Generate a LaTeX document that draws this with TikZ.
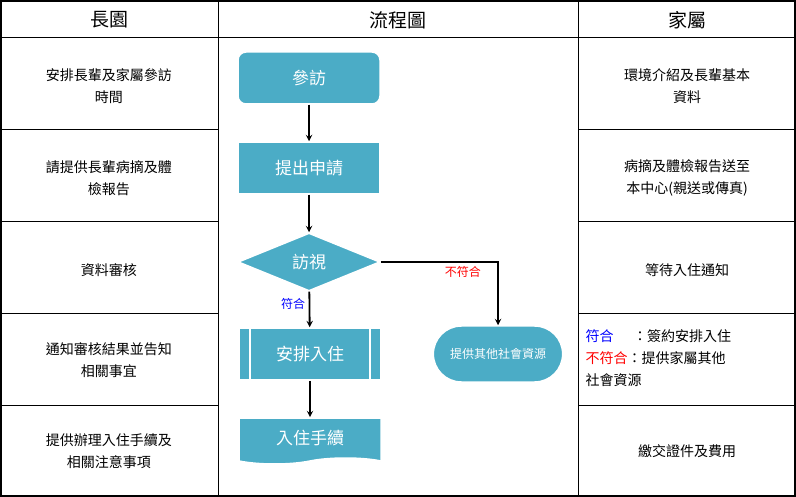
\documentclass[tikz,border=0pt]{standalone}
\usepackage{fontspec}
\setmainfont{Noto Sans CJK TC}
\usetikzlibrary{shapes.geometric,shapes.symbols,shapes.misc,positioning}
\definecolor{flowfill}{HTML}{4BACC6}
\tikzset{>=stealth,
  box/.style={fill=flowfill,draw=white,line width=1.5pt,text=white,font=\fontsize{17}{20}\selectfont,minimum width=142pt,minimum height=52pt},
  cell/.style={text width=200pt,align=center,font=\fontsize{14}{22}\selectfont},
  flow/.style={->,line width=1.8pt}}
\begin{document}
\begin{tikzpicture}[x=1pt,y=-1pt]
          \useasboundingbox (0,0) rectangle (796,497);
          \fill[white] (0,0) rectangle (796,497);
          % table
          \draw[line width=1.5pt] (1,1) rectangle (795,496);
          \draw[line width=1pt] (218,1) -- (218,496) (578,1) -- (578,496) (1,38) -- (795,38);
          \foreach \y in {130,222,314,405}{
            \draw[line width=1pt] (1,\y) -- (218,\y) (578,\y) -- (795,\y);
          }
          \node[font=\fontsize{19}{22}\selectfont] (hl) at (109,20) {長園};
          \node[font=\fontsize{19}{22}\selectfont] (hm) at (398,20) {流程圖};
          \node[font=\fontsize{19}{22}\selectfont] (hr) at (687,20) {家屬};
          % left column
          \node[cell] (l1) at (109,86) {安排長輩及家屬參訪\\時間};
          \node[cell] (l2) at (109,178) {請提供長輩病摘及體\\檢報告};
          \node[cell] (l3) at (109,270) {資料審核};
          \node[cell] (l4) at (109,360) {通知審核結果並告知\\相關事宜};
          \node[cell] (l5) at (109,451) {提供辦理入住手續及\\相關注意事項};
          % right column
          \node[cell] (r1) at (687,86) {環境介紹及長輩基本\\資料};
          \node[cell] (r2) at (687,178) {病摘及體檢報告送至\\本中心(親送或傳真)};
          \node[cell] (r3) at (687,270) {等待入住通知};
          \node[cell,align=left,text width=205pt] (r4) at (688,358) {\textcolor{blue}{符合\hspace{1.4em}}：簽約安排入住\\\textcolor{red}{不符合}：提供家屬其他\\社會資源};
          \node[cell] (r5) at (687,451) {繳交證件及費用};
          % flow
          \node[box,rounded corners=8pt] (visit) at (309,78) {參訪};
          \node[box] (apply) at (309,168) {提出申請};
          \node[box,diamond,aspect=2.6,minimum width=142pt,minimum height=58pt,inner sep=0pt] (check) at (309,262) {訪視};
          \node[box] (admit) at (310,354) {安排入住};
          \draw[white,line width=1.5pt] (250,328) -- (250,380) (370,328) -- (370,380);
          \node[box,tape,tape bend top=none,tape bend height=6pt,minimum height=46pt] (proc) at (310,438) {入住手續};
          \node[box,rounded rectangle,minimum width=136pt,minimum height=56pt,font=\fontsize{12}{14}\selectfont] (other) at (498,354) {提供其他社會資源};
          \draw[flow] (visit) -- (apply);
          \draw[flow] (apply) -- (check);
          \draw[flow] (check) -- node[left,pos=0.35,text=blue,font=\fontsize{12}{14}\selectfont]{符合} (admit);
          \draw[flow] (check.east) -| node[pos=0.35,below,text=red,font=\fontsize{12}{14}\selectfont]{不符合} (other.north);
          \draw[flow] (admit) -- (proc);
        \end{tikzpicture}
\end{document}
